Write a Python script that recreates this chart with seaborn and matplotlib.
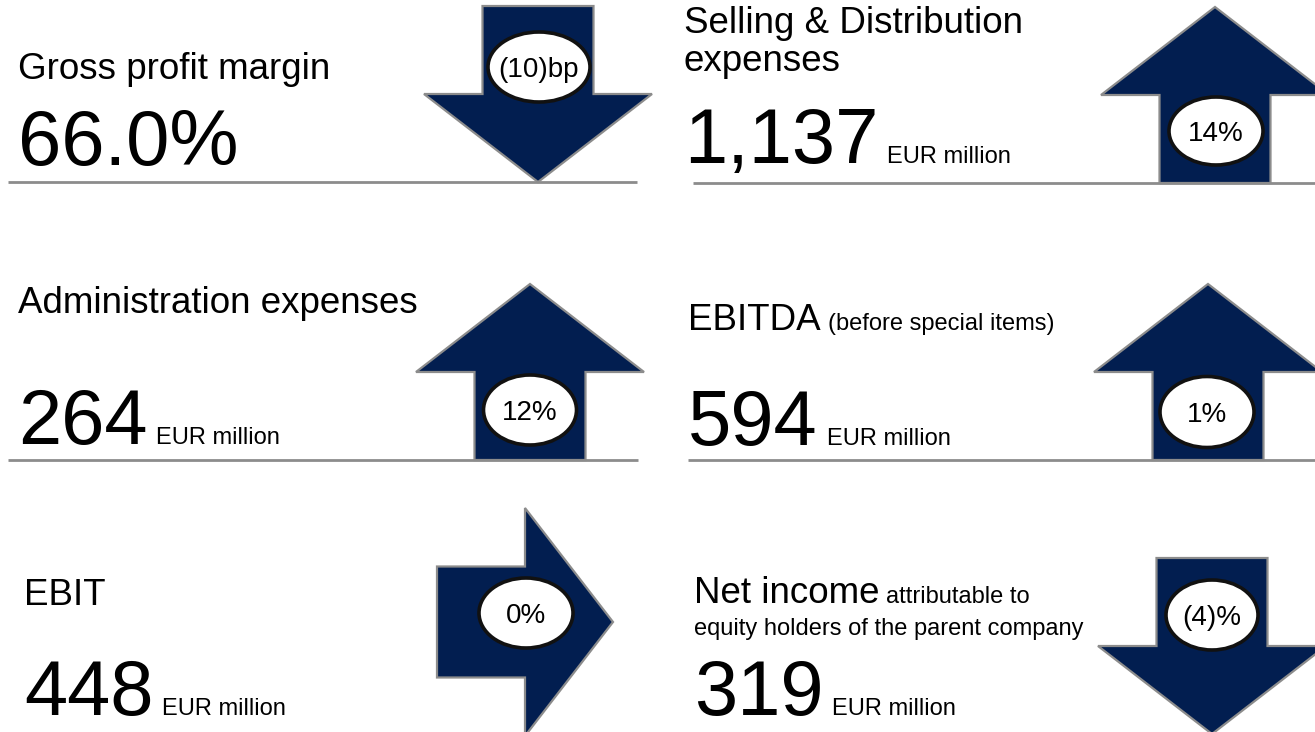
import matplotlib
matplotlib.use('Agg')
import matplotlib.pyplot as plt
from matplotlib.patches import Polygon, Ellipse
import seaborn as sns

# KPI content
titles = ['Gross profit margin', 'Selling & Distribution\nexpenses', 'Administration expenses',
          'EBITDA', 'EBIT', 'Net income']
notes = ['', '', '', '(before special items)', '',
         'attributable to\nequity holders of the parent company']
values = ['66.0%', '1,137', '264', '594', '448', '319']
units = ['', 'EUR million', 'EUR million', 'EUR million', 'EUR million', 'EUR million']
changes = ['(10)bp', '14%', '12%', '1%', '0%', '(4)%']
directions = ['down', 'up', 'up', 'up', 'right', 'down']

# layout (pixel grid, y grows downwards)
text_x = [18, 684, 18, 688, 24, 694]
title_y = [79, 33, 313, 330, 605, 603]
value_y = [165, 163, 444, 445, 715, 715]
rule_x = [(8, 637), (693, 1315), (8, 638), (688, 1315), None, None]
rule_y = [182, 183, 460, 460, None, None]
arrow_tail = [(538, 6), (1215, 183), (530, 460), (1208, 460), (437, 622), (1212, 558)]
bubble_xy = [(539, 67), (1216, 131), (530, 410), (1207, 412), (526, 613), (1212, 615)]
bubble_wh = [(102, 70), (94, 68), (93, 70), (94, 71), (94, 70), (92, 70)]

ARROW_LEN, HEAD_LEN, SHAFT_W, HEAD_W = 176, 88, 111, 228
NAVY = '#021E50'
EDGE = '#8C8C8C'

sns.set_theme(style='white')
plt.rcParams['font.family'] = ['Liberation Sans', 'DejaVu Sans']


def arrow_points(tail, direction):
    cx, cy = tail
    L, hl, sw, hw = ARROW_LEN, HEAD_LEN, SHAFT_W / 2, HEAD_W / 2
    local = [(0, -sw), (L - hl, -sw), (L - hl, -hw), (L, 0),
             (L - hl, hw), (L - hl, sw), (0, sw)]
    if direction == 'down':
        return [(cx + v, cy + u) for u, v in local]
    if direction == 'up':
        return [(cx + v, cy - u) for u, v in local]
    return [(cx + u, cy + v) for u, v in local]


fig = plt.figure(figsize=(13.15, 7.32), dpi=100)
ax = fig.add_axes([0, 0, 1, 1])
ax.set_xlim(0, 1315)
ax.set_ylim(732, 0)
ax.axis('off')
renderer = fig.canvas.get_renderer()
inv = ax.transData.inverted()


def right_edge(t):
    bb = t.get_window_extent(renderer)
    return inv.transform((bb.x1, bb.y0))[0]


for i in range(len(titles)):
    x0 = text_x[i]
    lines = titles[i].split('\n')
    for k, line in enumerate(lines):
        t = ax.text(x0, title_y[i] + 38 * k, line, fontsize=26.5, va='baseline', color='black')
    if notes[i]:
        nl = notes[i].split('\n')
        ax.text(right_edge(t) + 7, title_y[i], nl[0], fontsize=17, va='baseline', color='black')
        for k, line in enumerate(nl[1:]):
            ax.text(x0, title_y[i] + 32 * (k + 1), line, fontsize=17, va='baseline', color='black')

    v = ax.text(x0, value_y[i], values[i], fontsize=56, va='baseline', color='black')
    if units[i]:
        ax.text(right_edge(v) + 9, value_y[i], units[i], fontsize=17, va='baseline', color='black')

    if rule_x[i] is not None:
        ax.plot(rule_x[i], [rule_y[i], rule_y[i]], color=EDGE, lw=2, solid_capstyle='butt', zorder=1)

    ax.add_patch(Polygon(arrow_points(arrow_tail[i], directions[i]), closed=True,
                         facecolor=NAVY, edgecolor=EDGE, lw=1.6, zorder=2))
    bx, by = bubble_xy[i]
    bw, bh = bubble_wh[i]
    ax.add_patch(Ellipse((bx, by), bw, bh, facecolor='white', edgecolor='#111111', lw=2.6, zorder=3))
    ax.text(bx, by + 10, changes[i], fontsize=20, ha='center', va='baseline', color='black', zorder=4)

fig.savefig('out.png', dpi=100)
plt.close(fig)
